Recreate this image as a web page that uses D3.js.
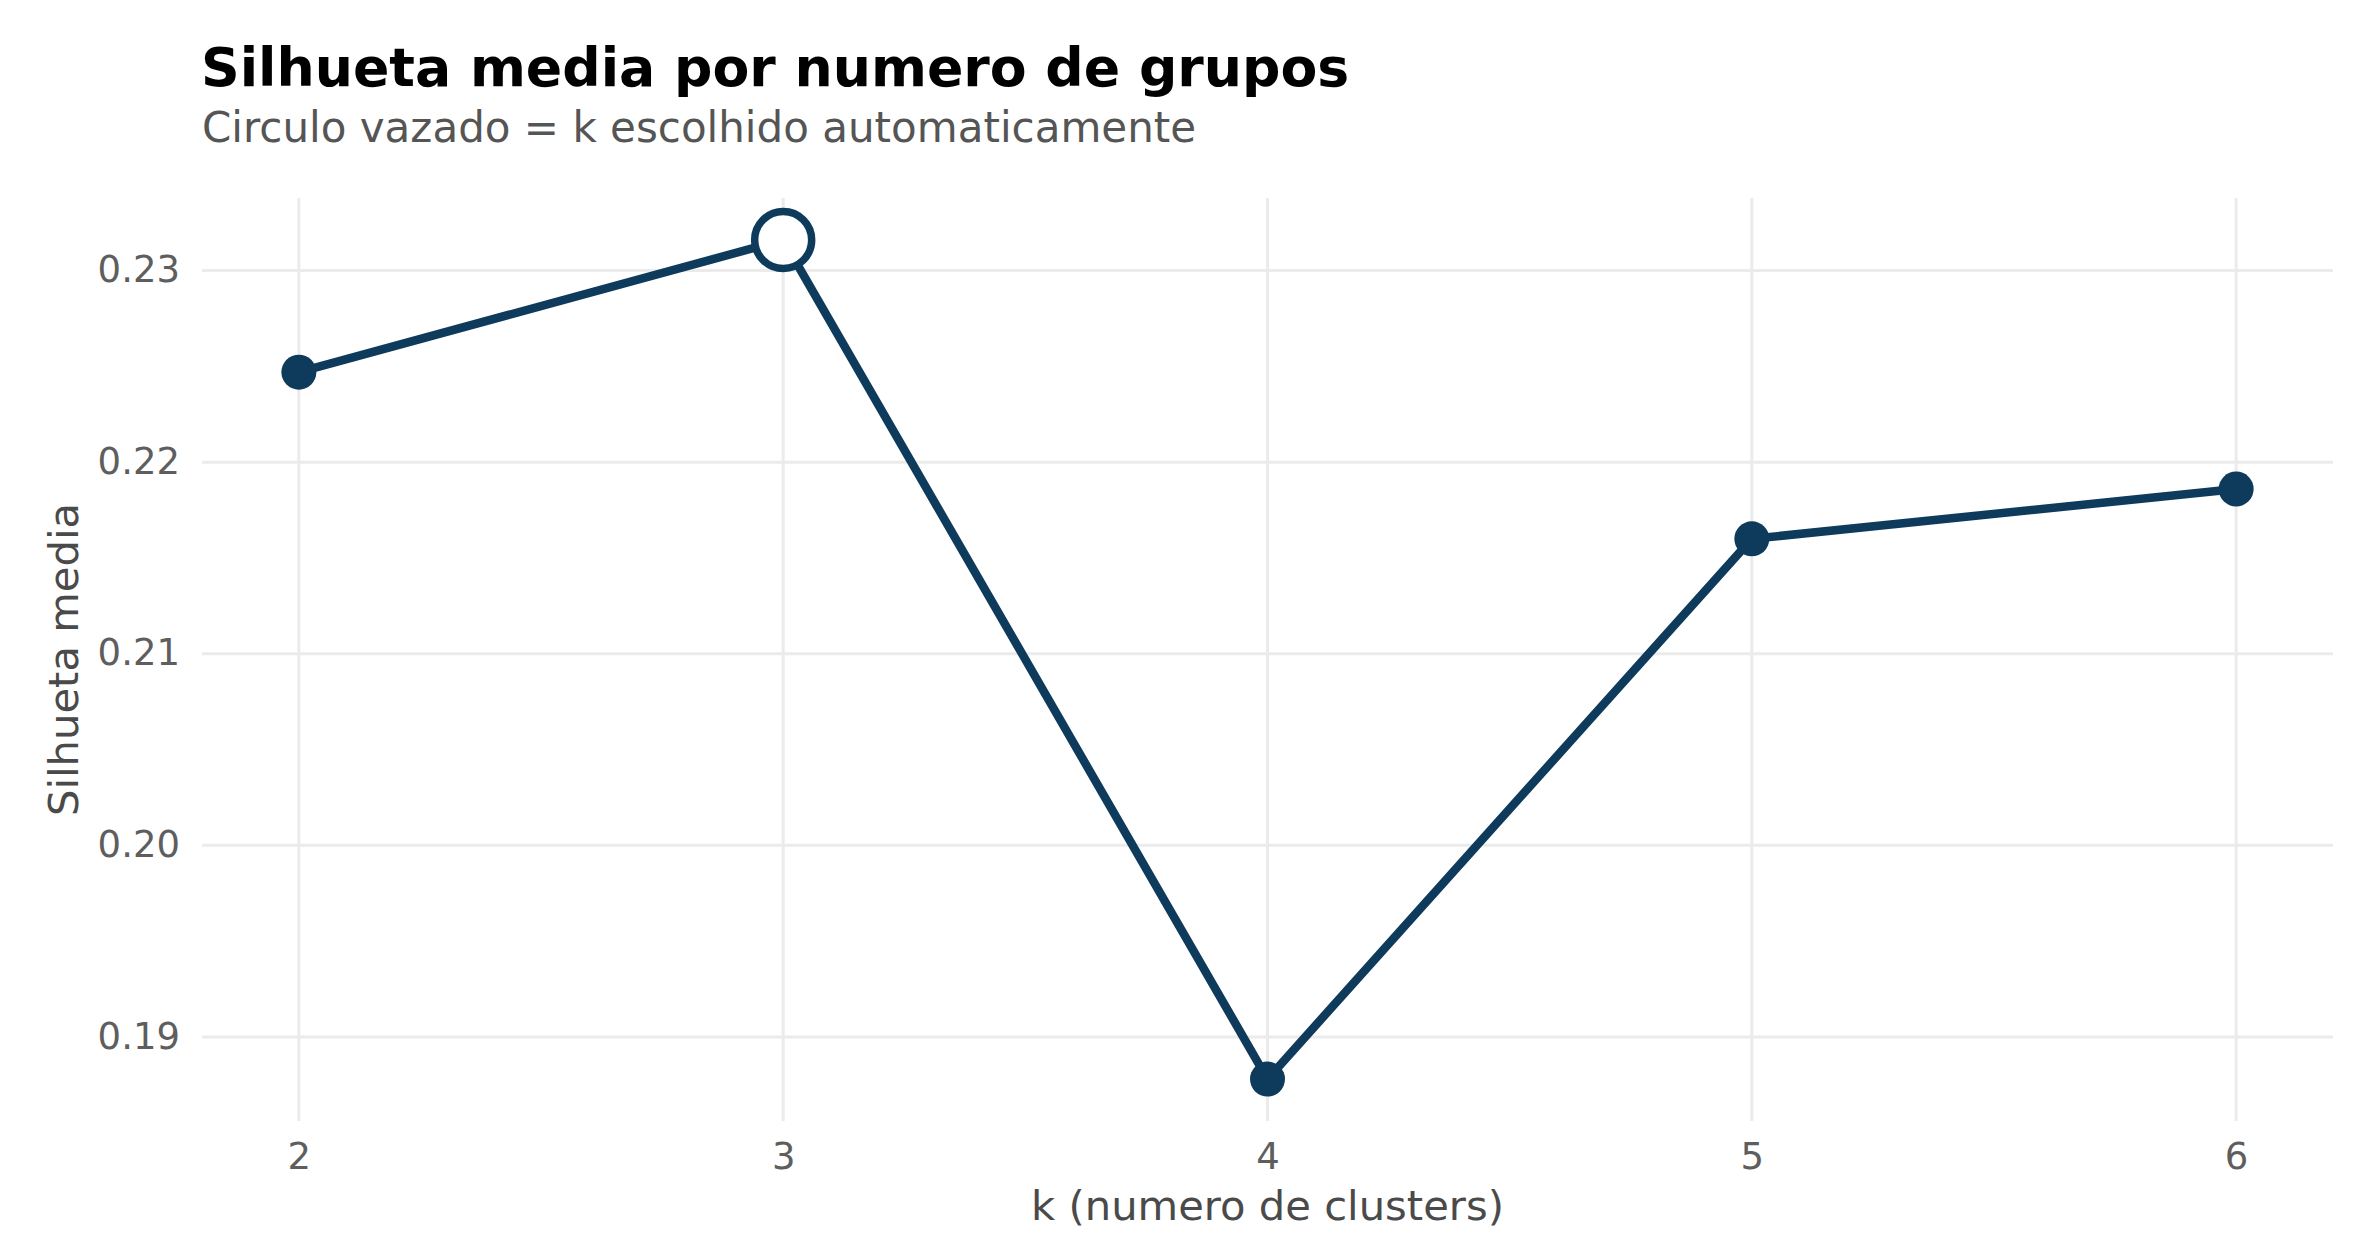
<!DOCTYPE html>
<html>
<head>
<meta charset="utf-8">
<script src="https://cdn.jsdelivr.net/npm/d3@7"></script>
<style>
  body { margin: 0; background: #fff; }
  text { font-family: "DejaVu Sans", sans-serif; }
</style>
</head>
<body>
<svg id="chart" width="2380" height="1260"></svg>
<script>
// data
let ks = [2, 3, 4, 5, 6]
let silhueta = [0.2247, 0.2316, 0.1878, 0.2160, 0.2186]
let k_escolhido = 3
let x_ticks = [2, 3, 4, 5, 6]
let y_ticks = [0.19, 0.20, 0.21, 0.22, 0.23]

let title = "Silhueta media por numero de grupos"
let subtitle = "Circulo vazado = k escolhido automaticamente"
let x_title = "k (numero de clusters)"
let y_title = "Silhueta media"

const navy = "#0e3b5b"
const panel = { left: 202, right: 2333, top: 198, bottom: 1121 }

// ggplot style 5% expansion on both scales
function expand(ext) {
    let pad = (ext[1] - ext[0]) * 0.05
    return [ext[0] - pad, ext[1] + pad]
}

let x = d3.scaleLinear().domain(expand(d3.extent(ks))).range([panel.left, panel.right])
let y = d3.scaleLinear().domain(expand(d3.extent(silhueta))).range([panel.bottom, panel.top])

let pts = ks.map((k, i) => ({ k: k, v: silhueta[i] }))

let svg = d3.select("#chart")
svg.append("rect")
   .attr("width", 2380).attr("height", 1260).attr("fill", "#fff")

// grid
let grid = svg.append("g").attr("stroke", "#ebebeb").attr("stroke-width", 3)
grid.selectAll(".gy").data(y_ticks).join("line")
    .attr("x1", panel.left).attr("x2", panel.right)
    .attr("y1", d => y(d)).attr("y2", d => y(d))
grid.selectAll(".gx").data(x_ticks).join("line")
    .attr("y1", panel.top).attr("y2", panel.bottom)
    .attr("x1", d => x(d)).attr("x2", d => x(d))

// axes (labels only, theme_minimal has no axis lines)
let yAxis = svg.append("g")
    .attr("transform", `translate(${panel.left - 22},0)`)
    .call(d3.axisLeft(y).tickValues(y_ticks).tickSize(0).tickPadding(0).tickFormat(d3.format(".2f")))
let xAxis = svg.append("g")
    .attr("transform", `translate(0,${panel.bottom + 20})`)
    .call(d3.axisBottom(x).tickValues(x_ticks).tickSize(0).tickPadding(0).tickFormat(d3.format("d")))

svg.selectAll(".domain").remove()
yAxis.selectAll("text")
     .attr("font-size", 37).attr("fill", "#5e5e5e")
     .attr("dy", "0.3em").attr("font-family", "DejaVu Sans")
xAxis.selectAll("text")
     .attr("font-size", 37).attr("fill", "#5e5e5e")
     .attr("dy", "0.75em").attr("font-family", "DejaVu Sans")

// line + points
svg.append("path")
   .datum(pts)
   .attr("d", d3.line().x(d => x(d.k)).y(d => y(d.v)))
   .attr("fill", "none")
   .attr("stroke", navy)
   .attr("stroke-width", 8.5)
   .attr("stroke-linejoin", "round")

svg.selectAll(".pt")
   .data(pts.filter(d => d.k != k_escolhido))
   .join("circle")
   .attr("cx", d => x(d.k)).attr("cy", d => y(d.v))
   .attr("r", 17.5)
   .attr("fill", navy)

svg.selectAll(".pt-open")
   .data(pts.filter(d => d.k == k_escolhido))
   .join("circle")
   .attr("cx", d => x(d.k)).attr("cy", d => y(d.v))
   .attr("r", 28.5)
   .attr("fill", "#fff")
   .attr("stroke", navy)
   .attr("stroke-width", 7.5)

// titles
svg.append("text").text(title)
   .attr("x", 201).attr("y", 86)
   .attr("font-size", 53.7).attr("font-weight", "bold").attr("fill", "#000")
svg.append("text").text(subtitle)
   .attr("x", 202).attr("y", 142)
   .attr("font-size", 42).attr("fill", "#555")

svg.append("text").text(x_title)
   .attr("x", (panel.left + panel.right) / 2).attr("y", 1220)
   .attr("text-anchor", "middle")
   .attr("font-size", 41.7).attr("fill", "#4a4a4a")
svg.append("text").text(y_title)
   .attr("transform", `translate(78,${(panel.top + panel.bottom) / 2}) rotate(-90)`)
   .attr("text-anchor", "middle")
   .attr("font-size", 41.7).attr("fill", "#4a4a4a")
</script>
</body>
</html>
